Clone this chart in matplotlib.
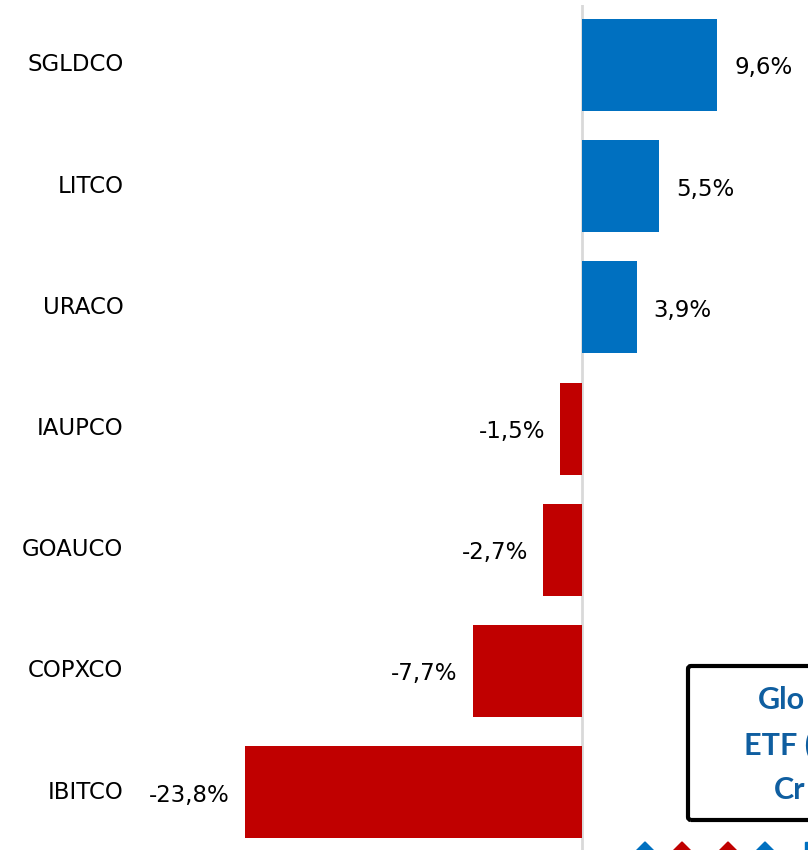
import matplotlib
matplotlib.use("Agg")
import matplotlib.pyplot as plt
from matplotlib.patches import FancyBboxPatch, RegularPolygon, Rectangle

# data
tickers = ["SGLDCO", "LITCO", "URACO", "IAUPCO", "GOAUCO", "COPXCO", "IBITCO"]
returns = [9.6, 5.5, 3.9, -1.5, -2.7, -7.7, -23.8]

BLUE = "#0070C0"
RED = "#C00000"

plt.rcParams["font.family"] = ["DejaVu Sans"]

W, H = 808, 850
fig = plt.figure(figsize=(W / 100, H / 100), dpi=100)
ax = fig.add_axes([140 / W, 0, 668 / W, 845 / H])

pos = list(range(len(tickers)))
colors = [BLUE if v >= 0 else RED for v in returns]
ax.barh(pos, returns, height=0.76, color=colors, zorder=2)

ax.set_xlim(-31.2, 16.0)
ax.set_ylim(6.477, -0.495)
ax.axvline(0, color="#D9D9D9", lw=2, zorder=1)

ax.set_yticks(pos)
ax.set_yticklabels(tickers, fontsize=16.5, va="center")
ax.tick_params(axis="y", length=0, pad=12)
ax.set_xticks([])
for s in ax.spines.values():
    s.set_visible(False)

for p, v in zip(pos, returns):
    lab = f"{v:.1f}%".replace(".", ",")
    if v >= 0:
        ax.annotate(lab, (v, p), xytext=(17, -3), textcoords="offset pixels",
                    ha="left", va="center", fontsize=16.5)
    else:
        ax.annotate(lab, (v, p), xytext=(-15, -3), textcoords="offset pixels",
                    ha="right", va="center", fontsize=16.5)

# partial info box at the lower right (cut off by the image edge)
px = fig.dpi_scale_trans
box = FancyBboxPatch((6.88, 0.30), 3.5, 1.54, boxstyle="round,pad=0,rounding_size=0.03",
                     fill=False, ec="black", lw=3, transform=px)
fig.add_artist(box)
BOXBLUE = "#0F5EA0"
for x, y, t in [(7.58, 1.50, "Glo"), (7.44, 1.05, "ETF ("), (7.74, 0.60, "Cr")]:
    fig.text(x, y, t, transform=px, ha="left", va="center", fontsize=22,
             fontweight="bold", color=BOXBLUE, family="Lato")

# decorative icons peeking in at the bottom
for x, c in [(6.45, BLUE), (6.82, RED), (7.28, RED), (7.65, BLUE)]:
    fig.add_artist(RegularPolygon((x, -0.08), 4, radius=0.16, color=c, transform=px))
fig.add_artist(Rectangle((8.05, 0), 0.05, 0.08, color=BLUE, transform=px))

fig.savefig("out.png", dpi=100)
